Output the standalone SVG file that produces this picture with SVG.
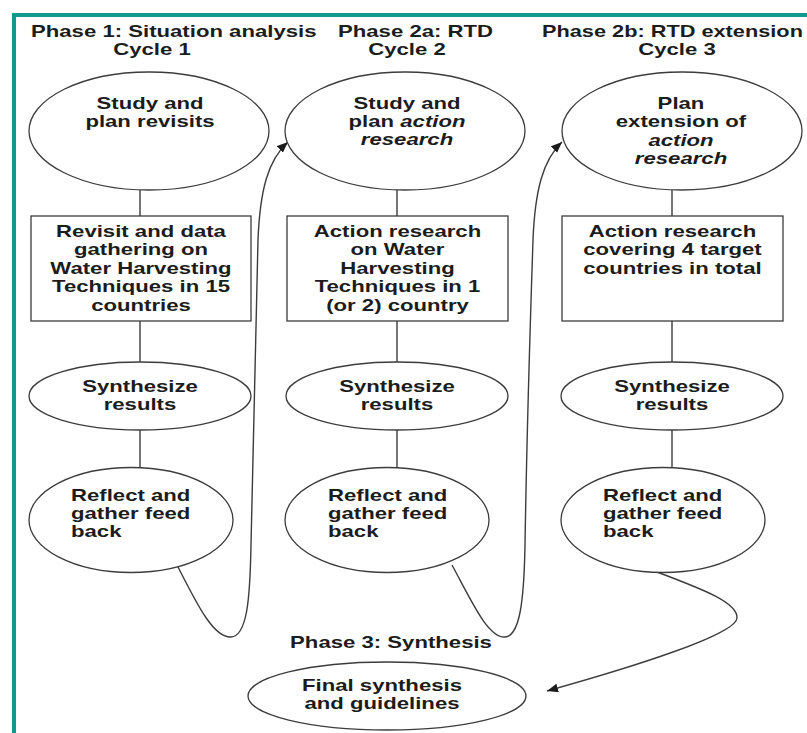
<svg xmlns="http://www.w3.org/2000/svg" width="807" height="733" viewBox="0 0 807 733">
<style>
.t{font-family:"Liberation Sans",Arial,Helvetica,sans-serif;font-weight:bold;font-size:16px;fill:#1c1c1c}
.m{text-anchor:middle}
.i{font-style:italic}
.n{fill:#fff;stroke:#3c3c3c;stroke-width:1.3}
.c{fill:none;stroke:#3c3c3c;stroke-width:1.4}
.b{fill:none;stroke:#12998f;stroke-width:4}
</style>
<defs>
<marker id="ah" markerUnits="userSpaceOnUse" markerWidth="12" markerHeight="10" refX="11" refY="4.5" orient="auto">
<path d="M0,0 L11,4.5 L0,9 z" fill="#1c1c1c"/>
</marker>
</defs>
<rect width="807" height="733" fill="#fff"/>
<path class="b" d="M14,733 L14,15 L807,15"/>

<g id="headings">
<text class="t" transform="translate(31,0) scale(1.385,1)" x="0" y="37">Phase 1: Situation analysis</text>
<text class="t m" transform="translate(152,0) scale(1.385,1)" x="0" y="55">Cycle 1</text>
<text class="t" transform="translate(338,0) scale(1.385,1)" x="0" y="37">Phase 2a: RTD</text>
<text class="t m" transform="translate(407,0) scale(1.385,1)" x="0" y="55">Cycle 2</text>
<text class="t" transform="translate(542,0) scale(1.36,1)" x="0" y="37">Phase 2b: RTD extension</text>
<text class="t m" transform="translate(677,0) scale(1.385,1)" x="0" y="55">Cycle 3</text>
<text class="t m" transform="translate(391,0) scale(1.385,1)" x="0" y="648">Phase 3: Synthesis</text>
</g>

<g id="connectors">
<path class="c" d="M140,190 L140,216 M140,321 L140,362 M140,430 L140,468"/>
<path class="c" d="M397,189 L397,216 M397,321 L397,362 M397,430 L397,468"/>
<path class="c" d="M672,190 L672,216 M672,321 L672,362 M672,430 L672,468"/>
<path class="c" marker-end="url(#ah)" d="M177,565 C196,602 213,638 231,637 C247,636 250,600 251,545 C253,420 256,300 258,240 C260,190 268,160 288,142"/>
<path class="c" marker-end="url(#ah)" d="M452,565 C472,602 488,638 505,637 C520,636 524,600 525,545 C527,420 531,300 533,240 C535,190 543,160 562,142"/>
<path class="c" marker-end="url(#ah)" d="M657,572 C705,590 738,603 737,618 C736,634 640,665 547,691"/>
</g>

<g id="study1">
<ellipse class="n" cx="149" cy="131" rx="120" ry="59"/>
<text class="t m" transform="translate(150,0) scale(1.385,1)"><tspan x="0" y="109">Study and</tspan><tspan x="0" y="127">plan revisits</tspan></text>
</g>
<g id="study2">
<ellipse class="n" cx="405" cy="131" rx="120" ry="59"/>
<text class="t m" transform="translate(407,0) scale(1.385,1)"><tspan x="0" y="109">Study and</tspan><tspan x="0" y="127">plan <tspan class="i">action</tspan></tspan><tspan class="i" x="0" y="145">research</tspan></text>
</g>
<g id="study3">
<ellipse class="n" cx="682" cy="131" rx="120" ry="59"/>
<text class="t m" transform="translate(681,0) scale(1.385,1)"><tspan x="0" y="109">Plan</tspan><tspan x="0" y="127">extension of</tspan><tspan class="i" x="0" y="146">action</tspan><tspan class="i" x="0" y="164">research</tspan></text>
</g>

<g id="box1">
<rect class="n" x="31" y="216" width="220" height="105"/>
<text class="t m" transform="translate(141,0) scale(1.385,1)"><tspan x="0" y="237">Revisit and data</tspan><tspan x="0" y="255.5">gathering on</tspan><tspan x="0" y="274">Water Harvesting</tspan><tspan x="0" y="292.5">Techniques in 15</tspan><tspan x="0" y="311">countries</tspan></text>
</g>
<g id="box2">
<rect class="n" x="287" y="216" width="221" height="105"/>
<text class="t m" transform="translate(397.5,0) scale(1.385,1)"><tspan x="0" y="237">Action research</tspan><tspan x="0" y="255.5">on Water</tspan><tspan x="0" y="274">Harvesting</tspan><tspan x="0" y="292.5">Techniques in 1</tspan><tspan x="0" y="311">(or 2) country</tspan></text>
</g>
<g id="box3">
<rect class="n" x="562" y="216" width="221" height="105"/>
<text class="t m" transform="translate(672.5,0) scale(1.385,1)"><tspan x="0" y="237">Action research</tspan><tspan x="0" y="255.5">covering 4 target</tspan><tspan x="0" y="274">countries in total</tspan></text>
</g>

<g id="synth1">
<ellipse class="n" cx="140" cy="396" rx="111" ry="34"/>
<text class="t m" transform="translate(140,0) scale(1.385,1)"><tspan x="0" y="392">Synthesize</tspan><tspan x="0" y="410">results</tspan></text>
</g>
<g id="synth2">
<ellipse class="n" cx="397" cy="396" rx="111" ry="34"/>
<text class="t m" transform="translate(397,0) scale(1.385,1)"><tspan x="0" y="392">Synthesize</tspan><tspan x="0" y="410">results</tspan></text>
</g>
<g id="synth3">
<ellipse class="n" cx="672" cy="396" rx="111" ry="34"/>
<text class="t m" transform="translate(672,0) scale(1.385,1)"><tspan x="0" y="392">Synthesize</tspan><tspan x="0" y="410">results</tspan></text>
</g>

<g id="reflect1">
<ellipse class="n" cx="131" cy="520" rx="102" ry="52.5"/>
<text class="t" transform="translate(71,0) scale(1.385,1)"><tspan x="0" y="501">Reflect and</tspan><tspan x="0" y="519">gather feed</tspan><tspan x="0" y="537">back</tspan></text>
</g>
<g id="reflect2">
<ellipse class="n" cx="387" cy="520" rx="102" ry="52.5"/>
<text class="t" transform="translate(328,0) scale(1.385,1)"><tspan x="0" y="501">Reflect and</tspan><tspan x="0" y="519">gather feed</tspan><tspan x="0" y="537">back</tspan></text>
</g>
<g id="reflect3">
<ellipse class="n" cx="663" cy="520" rx="102" ry="52.5"/>
<text class="t" transform="translate(603,0) scale(1.385,1)"><tspan x="0" y="501">Reflect and</tspan><tspan x="0" y="519">gather feed</tspan><tspan x="0" y="537">back</tspan></text>
</g>

<g id="final">
<ellipse class="n" cx="387" cy="696" rx="139" ry="34"/>
<text class="t m" transform="translate(382,0) scale(1.385,1)"><tspan x="0" y="691">Final synthesis</tspan><tspan x="0" y="709">and guidelines</tspan></text>
</g>
</svg>
